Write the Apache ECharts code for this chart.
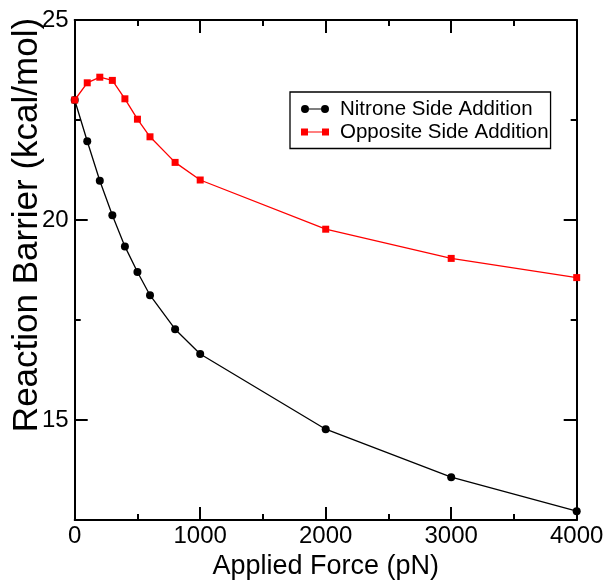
<!DOCTYPE html>
<html>
<head>
<meta charset="utf-8">
<script src="https://cdn.jsdelivr.net/npm/echarts@6/dist/echarts.min.js"></script>
<style>
html,body{margin:0;padding:0;background:#fff;}
#chart{width:611px;height:580px;}
</style>
</head>
<body>
<div id="chart"></div>
<script>
var forces = [0, 100, 200, 300, 400, 500, 600, 800, 1000, 2000, 3000, 4000];
var nitroneSide = [23.0, 21.97, 20.98, 20.12, 19.34, 18.7, 18.12, 17.27, 16.65, 14.77, 13.57, 12.72];
var oppositeSide = [23.0, 23.43, 23.57, 23.49, 23.03, 22.52, 22.08, 21.44, 21.0, 19.77, 19.04, 18.56];
var seriesNames = ['Nitrone Side Addition', 'Opposite Side Addition'];
var yMajorTicks = [15, 20, 25];
var yMinorTicks = [17.5, 22.5];
var xAxisTitle = 'Applied Force (pN)';
var yAxisTitle = 'Reaction Barrier (kcal/mol)';

var FONT = '"Liberation Sans", Arial, sans-serif';

function pairs(xs, ys) { return xs.map(function (x, i) { return [x, ys[i]]; }); }

var circleIcon = 'path://M0,4 A4,4 0 1,1 8,4 A4,4 0 1,1 0,4 Z M8,3.4 L20,3.4 L20,4.6 L8,4.6 Z M20,4 A4,4 0 1,1 28,4 A4,4 0 1,1 20,4 Z';
var squareIcon = 'path://M0,0.5 L7,0.5 L7,7.5 L0,7.5 Z M7,3.4 L21,3.4 L21,4.6 L7,4.6 Z M21,0.5 L28,0.5 L28,7.5 L21,7.5 Z';

var axisLineStyle = { color: '#000', width: 2 };
var tickLineStyle = { color: '#000', width: 2 };

function xAx(pos, show) {
  return {
    type: 'value', position: pos, min: 0, max: 4000, interval: 1000,
    axisLine: { show: true, onZero: false, lineStyle: axisLineStyle },
    axisTick: { show: true, inside: true, length: 13, lineStyle: tickLineStyle },
    minorTick: { show: true, splitNumber: 2, length: 6, lineStyle: tickLineStyle },
    axisLabel: { show: show, margin: 4, fontSize: 24, color: '#000', fontFamily: FONT,
      formatter: function (v) { return String(v); } },
    splitLine: { show: false }, minorSplitLine: { show: false }
  };
}
function yAx(pos, major, showLine, showLabel) {
  return {
    type: 'value', position: pos, min: 12.5, max: 25, interval: 2.5,
    axisLine: { show: showLine, onZero: false, lineStyle: axisLineStyle },
    axisTick: { show: true, inside: true, length: major ? 13 : 6, customValues: major ? yMajorTicks : yMinorTicks, lineStyle: tickLineStyle },
    axisLabel: { show: showLabel, customValues: yMajorTicks, margin: 6, fontSize: 24, color: '#000', fontFamily: FONT,
      formatter: function (v) { return String(v); } },
    splitLine: { show: false }
  };
}

var xb = xAx('bottom', true);
xb.name = xAxisTitle;
xb.nameLocation = 'middle';
xb.nameGap = 31;
xb.nameTextStyle = { fontSize: 27, color: '#000', fontFamily: FONT };

var chart = echarts.init(document.getElementById('chart'), null, { renderer: 'canvas' });
chart.setOption({
  animation: false,
  backgroundColor: '#fff',
  grid: { left: 74.7, top: 20, right: 34.3, bottom: 60, containLabel: false, outerBoundsMode: 'none' },
  xAxis: [xb, xAx('top', false)],
  yAxis: [yAx('left', true, true, true), yAx('right', true, true, false), yAx('left', false, false, false), yAx('right', false, false, false)],
  legend: {
    orient: 'vertical', left: 290, top: 92,
    padding: [6.5, 2, 6, 11], itemGap: 2, itemWidth: 28, itemHeight: 8,
    borderColor: '#000', borderWidth: 1.3, backgroundColor: '#fff',
    textStyle: { fontSize: 20.5, color: '#000', fontFamily: FONT, padding: [0, 0, 0, 6] },
    data: [{ name: seriesNames[0], icon: circleIcon }, { name: seriesNames[1], icon: squareIcon }]
  },
  graphic: [{
    type: 'text', x: 27, y: 225, rotation: Math.PI / 2,
    style: { text: yAxisTitle, font: '35px ' + FONT, fill: '#000', align: 'center', verticalAlign: 'middle' }
  }],
  series: [{
    name: seriesNames[0], type: 'line', xAxisIndex: 0, yAxisIndex: 0,
    data: pairs(forces, nitroneSide), symbol: 'circle', symbolSize: 8,
    itemStyle: { color: '#000' }, lineStyle: { color: '#000', width: 1.3 }, clip: false, z: 2
  }, {
    name: seriesNames[1], type: 'line', xAxisIndex: 0, yAxisIndex: 0,
    data: pairs(forces, oppositeSide), symbol: 'rect', symbolSize: 7,
    itemStyle: { color: '#ff0000' }, lineStyle: { color: '#ff0000', width: 1.3 }, clip: false, z: 3
  }]
});
</script>
</body>
</html>
